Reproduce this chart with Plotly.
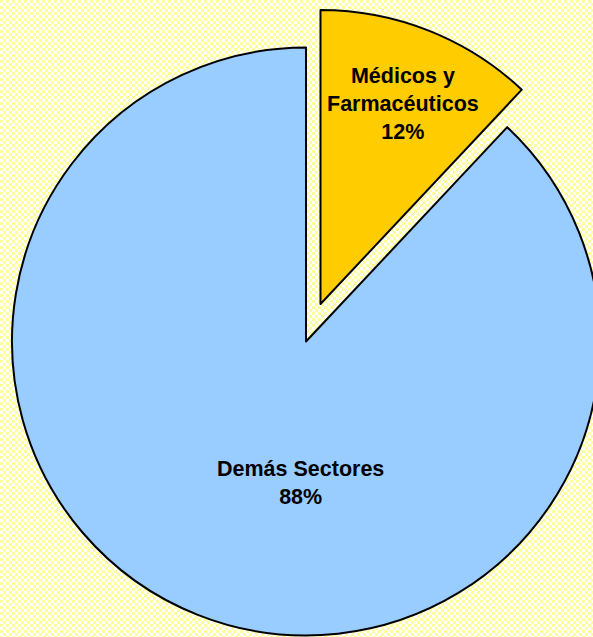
import base64
import plotly.graph_objects as go

# Data
labels = ["Médicos y<br>Farmacéuticos", "Demás Sectores"]
values = [12, 88]
colors = ["#FFCC00", "#99CCFF"]

W, H = 620, 637

# checkered background as an SVG pattern
svg = (
    f'<svg xmlns="http://www.w3.org/2000/svg" width="{W}" height="{H}">'
    '<defs><pattern id="p" width="6" height="6" patternUnits="userSpaceOnUse">'
    '<rect width="6" height="6" fill="#FFFFFF"/>'
    '<rect width="3" height="3" fill="#FFFF99"/>'
    '<rect x="3" y="3" width="3" height="3" fill="#FFFF99"/>'
    '</pattern></defs>'
    f'<rect width="{W}" height="{H}" fill="url(#p)"/></svg>'
)
bg_src = "data:image/svg+xml;base64," + base64.b64encode(svg.encode()).decode()

total = sum(values)
pcts = [f"{round(v / total * 100)}%" for v in values]

fig = go.Figure()

# main pie: the large slice (small slice left transparent, it is drawn pulled out)
R = 294
cx, cy = 306, 341.5
fig.add_trace(go.Pie(
    values=values,
    labels=labels,
    sort=False,
    direction="clockwise",
    rotation=0,
    marker=dict(colors=["rgba(0,0,0,0)", colors[1]],
                line=dict(color=["rgba(0,0,0,0)", "black"], width=[0, 2])),
    textinfo="none",
    hoverinfo="label+percent",
    showlegend=False,
    domain=dict(x=[(cx - R) / W, (cx + R) / W], y=[(H - cy - R) / H, (H - cy + R) / H]),
))

# exploded slice
ex, ey = 320.5, 304
fig.add_trace(go.Pie(
    values=values,
    labels=labels,
    sort=False,
    direction="clockwise",
    rotation=0,
    marker=dict(colors=[colors[0], "rgba(0,0,0,0)"],
                line=dict(color=["black", "rgba(0,0,0,0)"], width=[2, 0])),
    textinfo="none",
    hoverinfo="label+percent",
    showlegend=False,
    domain=dict(x=[(ex - R) / W, (ex + R) / W], y=[(H - ey - R) / H, (H - ey + R) / H]),
))

label_pos = [(403, 104), (300, 483)]
for lab, p, (x, y) in zip(labels, pcts, label_pos):
    fig.add_annotation(
        x=x / W, y=1 - y / H, xref="paper", yref="paper",
        text=f"<b>{lab}<br>{p}</b>", showarrow=False,
        font=dict(family="Liberation Sans, Arial, sans-serif", size=21.5, color="black"),
        align="center", xanchor="center", yanchor="middle",
    )

fig.update_layout(
    width=W, height=H,
    margin=dict(l=0, r=0, t=0, b=0),
    paper_bgcolor="#FFFFD0",
    plot_bgcolor="#FFFFD0",
    images=[dict(source=bg_src, xref="paper", yref="paper", x=0, y=1,
                 sizex=1, sizey=1, xanchor="left", yanchor="top",
                 sizing="stretch", layer="below")],
)

fig.write_html(
    "out.html",
    config={"displayModeBar": False},
    post_script="document.documentElement.style.overflow='hidden';document.body.style.overflow='hidden';document.body.style.margin='0';",
)
